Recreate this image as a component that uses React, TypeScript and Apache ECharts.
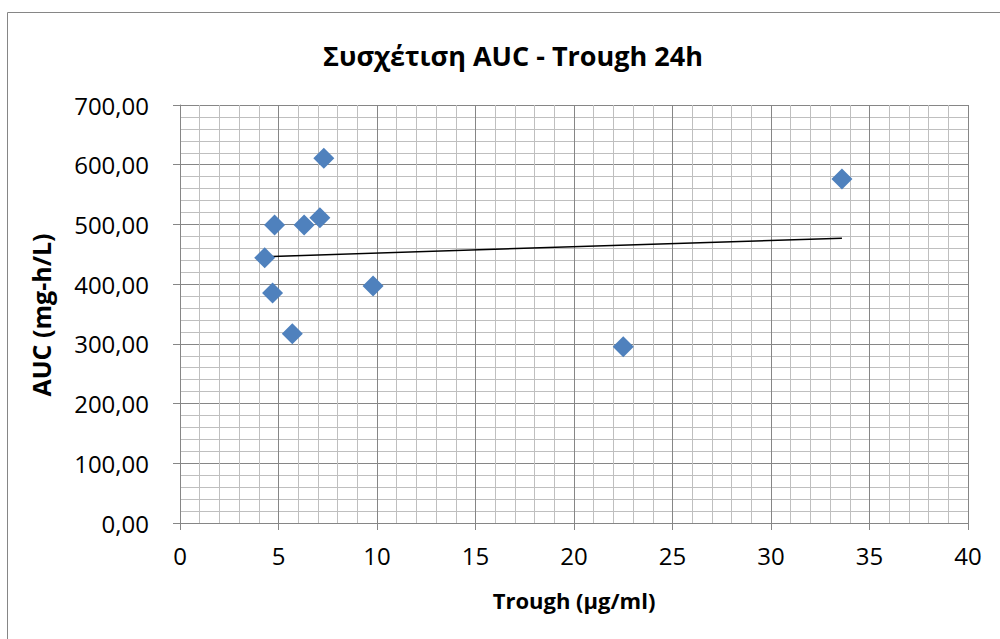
import React, { useEffect, useRef } from "react";
import * as echarts from "echarts";

const troughValues = [4.3, 4.8, 4.7, 5.7, 6.3, 7.1, 7.3, 9.8, 22.5, 33.6];
const aucValues = [444, 499, 385, 317, 499, 511, 611, 397, 295, 576];
const trendX = [4.3, 33.6];
const trendY = [446, 477];

const titleText = "Συσχέτιση AUC - Trough 24h";
const xTitle = "Trough (μg/ml)";
const yTitle = "AUC (mg-h/L)";

const FONT = "'Open Sans', 'Noto Sans', sans-serif";

export default function App() {
  const ref = useRef<HTMLDivElement>(null);
  useEffect(() => {
    if (!ref.current) return;
    const chart = echarts.init(ref.current, null, { renderer: "svg" });
    const points = troughValues.map((x, i) => [x, aucValues[i]]);
    const trend = trendX.map((x, i) => [x, trendY[i]]);
    chart.setOption({
      animation: false,
      backgroundColor: "#ffffff",
      grid: { left: 180, right: 32, top: 105, bottom: 116, containLabel: false },
      xAxis: {
        type: "value",
        min: 0,
        max: 40,
        interval: 5,
        axisLine: { show: true, onZero: false, lineStyle: { color: "#868686", width: 1 } },
        axisTick: { show: true, length: 7, lineStyle: { color: "#868686" } },
        minorTick: { show: false, splitNumber: 5 },
        splitLine: { show: true, lineStyle: { color: "#868686", width: 1 } },
        minorSplitLine: { show: true, lineStyle: { color: "#bfbfbf", width: 1 } },
        axisLabel: { color: "#000", fontFamily: FONT, fontSize: 24, margin: 20 },
      },
      yAxis: {
        type: "value",
        min: 0,
        max: 700,
        interval: 100,
        axisLine: { show: true, lineStyle: { color: "#868686", width: 1 } },
        axisTick: { show: true, length: 7, lineStyle: { color: "#868686" } },
        minorTick: { show: false, splitNumber: 5 },
        splitLine: { show: true, lineStyle: { color: "#868686", width: 1 } },
        minorSplitLine: { show: true, lineStyle: { color: "#bfbfbf", width: 1 } },
        axisLabel: {
          color: "#000",
          fontFamily: FONT,
          fontSize: 24,
          margin: 31,
          formatter: (v: number) => v.toFixed(2).replace(".", ","),
        },
      },
      series: [
        {
          type: "line",
          data: trend,
          symbol: "none",
          lineStyle: { color: "#000000", width: 1.5 },
          z: 3,
        },
        {
          type: "scatter",
          data: points,
          symbol: "diamond",
          symbolSize: 21,
          itemStyle: { color: "#4F81BD", opacity: 1 },
          z: 4,
        },
      ],
      graphic: [
        {
          type: "rect",
          shape: { x: 7.5, y: 12.5, width: 1000, height: 640 },
          style: { fill: "none", stroke: "#868686", lineWidth: 1 },
          silent: true,
        },
        {
          type: "text",
          x: 513,
          y: 55,
          style: {
            text: titleText,
            fontFamily: FONT,
            fontWeight: "bold",
            fontSize: 27,
            fill: "#000",
            align: "center",
            verticalAlign: "middle",
          },
        },
        {
          type: "text",
          x: 574,
          y: 600,
          style: {
            text: xTitle,
            fontFamily: FONT,
            fontWeight: "bold",
            fontSize: 22,
            fill: "#000",
            align: "center",
            verticalAlign: "middle",
          },
        },
        {
          type: "text",
          x: 41,
          y: 315,
          rotation: Math.PI / 2,
          style: {
            text: yTitle,
            fontFamily: FONT,
            fontWeight: "bold",
            fontSize: 25,
            fill: "#000",
            align: "center",
            verticalAlign: "middle",
          },
        },
      ],
    });
    return () => chart.dispose();
  }, []);
  return (
    <div
      ref={ref}
      style={{ position: "fixed", left: 0, top: 0, width: 1000, height: 639 }}
    />
  );
}
